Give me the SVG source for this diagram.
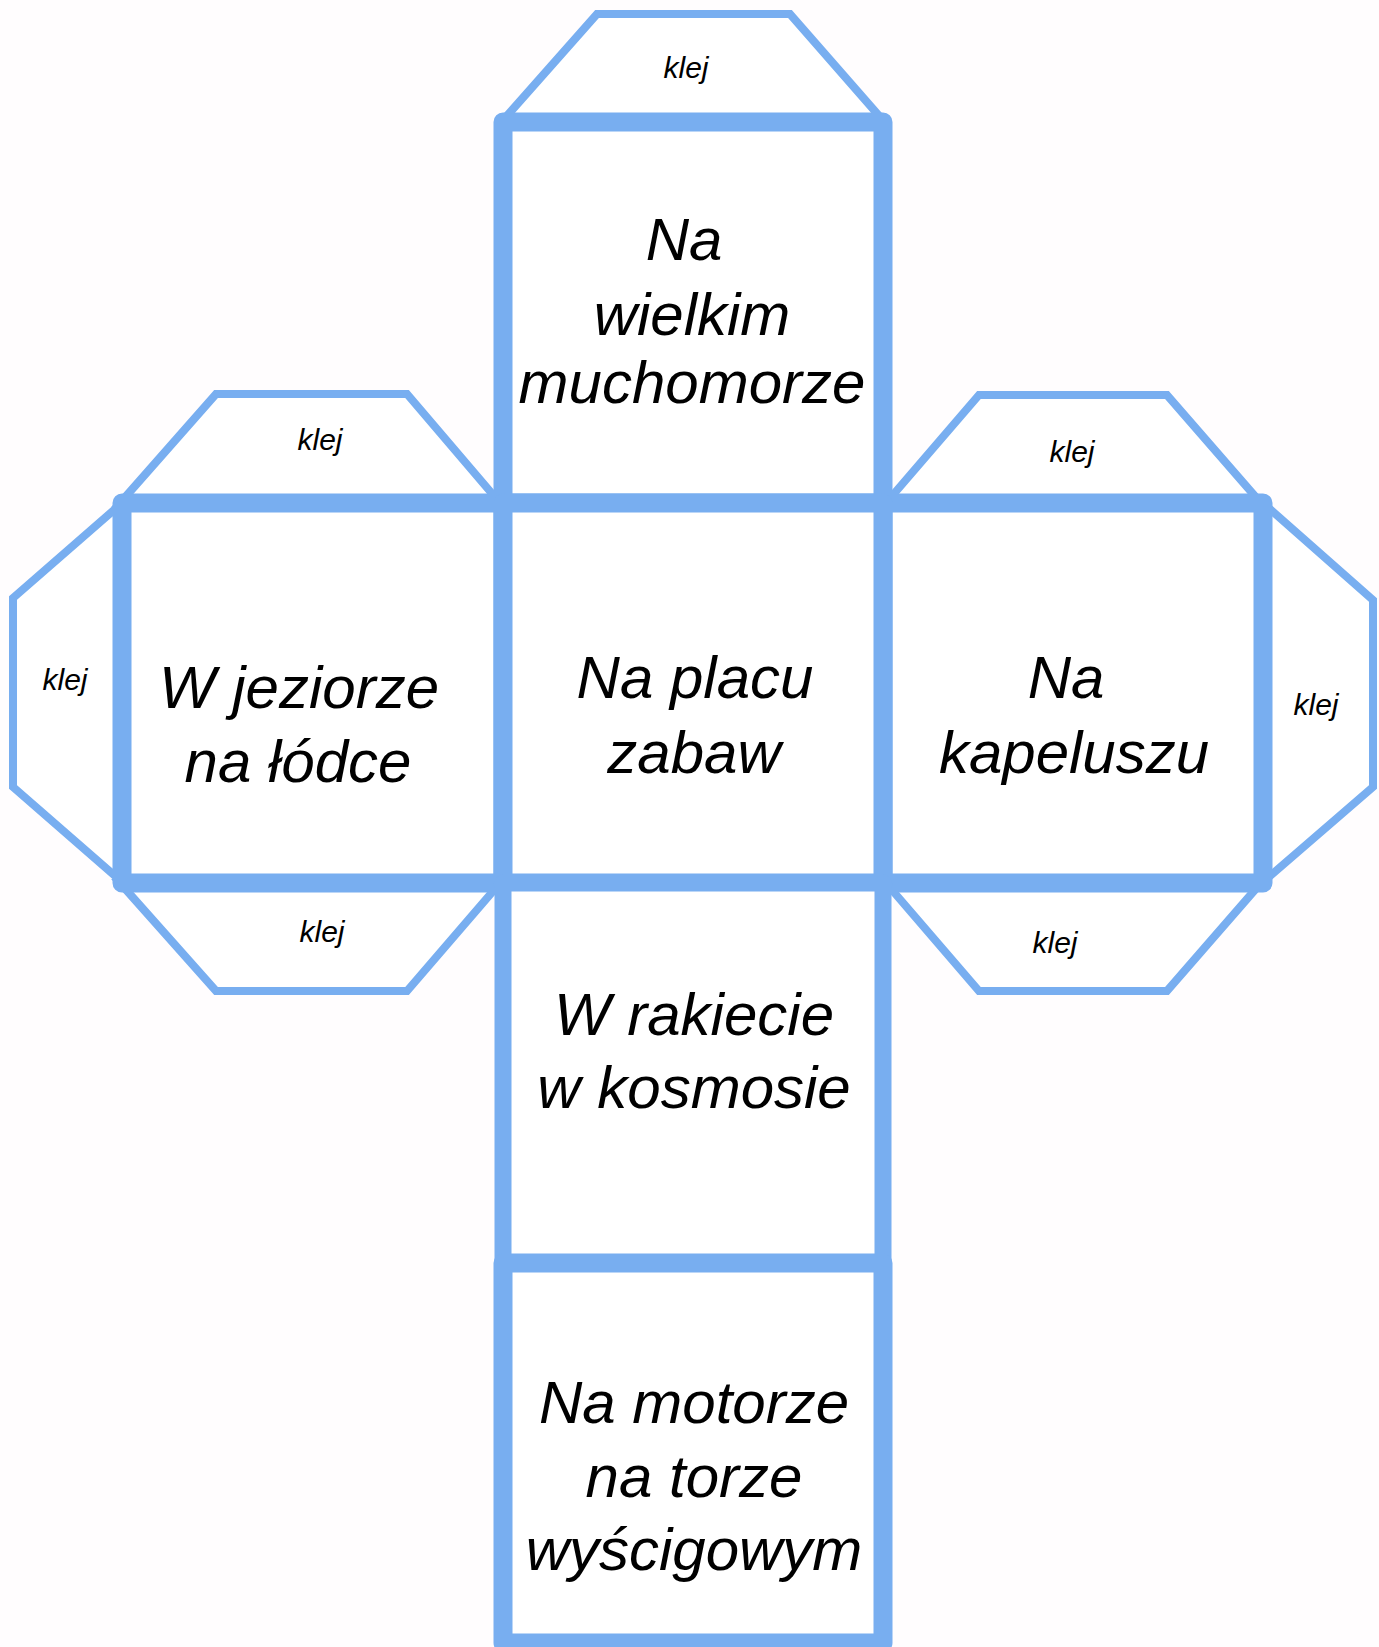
<svg xmlns="http://www.w3.org/2000/svg" width="1379" height="1647" viewBox="0 0 1379 1647">
<style>
.tab{fill:#ffffff;stroke:#78aef0;stroke-width:8;stroke-linejoin:miter}
.face{fill:#ffffff;stroke:#78aef0;stroke-width:19;stroke-linejoin:round}
.big{font-family:"Liberation Sans",Arial,sans-serif;font-style:italic;font-size:60px;fill:#000;text-anchor:middle}
.small{font-family:"Liberation Sans",Arial,sans-serif;font-style:italic;font-size:30px;fill:#000;text-anchor:middle}
</style>
<rect width="1379" height="1647" fill="#fffdfe"/>
<g id="tabs">
<g id="tab-top"><polygon class="tab" points="505,118 597,14 790,14 881,118"/><text class="small" x="686" y="78">klej</text></g>
<g id="tab-left-top"><polygon class="tab" points="120,503 216,394 407,394 500,503"/><text class="small" x="320" y="450">klej</text></g>
<g id="tab-right-top"><polygon class="tab" points="886,503 979,395 1167,395 1261,503"/><text class="small" x="1072" y="462">klej</text></g>
<g id="tab-left-bottom"><polygon class="tab" points="120,883 216,991 407,991 500,883"/><text class="small" x="322" y="942">klej</text></g>
<g id="tab-right-bottom"><polygon class="tab" points="886,883 979,991 1167,991 1261,883"/><text class="small" x="1055" y="953">klej</text></g>
<g id="tab-left-side"><polygon class="tab" points="122,503 13,598 13,787 122,882"/><text class="small" x="65" y="690">klej</text></g>
<g id="tab-right-side"><polygon class="tab" points="1263,503 1373,600 1373,787 1263,882"/><text class="small" x="1316" y="715">klej</text></g>
</g>
<g id="connectors"></g>
<g id="face-top"><rect class="face" x="503" y="122" width="380" height="381"/>
<text class="big" x="684" y="260">Na</text><text class="big" x="692" y="335">wielkim</text><text class="big" x="692" y="403">muchomorze</text></g>
<g id="face-left"><rect class="face" x="122" y="503" width="381" height="380"/>
<text class="big" x="299" y="708">W jeziorze</text><text class="big" x="298" y="782">na łódce</text></g>
<g id="face-right"><rect class="face" x="883" y="503" width="380" height="380"/>
<text class="big" x="1066" y="698">Na</text><text class="big" x="1074" y="773">kapeluszu</text></g>
<g id="face-center"><rect class="face" x="503" y="503" width="380" height="380"/>
<text class="big" x="695" y="698">Na placu</text><text class="big" x="694" y="773">zabaw</text></g>
<g id="face-lower"><rect class="face" x="503" y="883" width="380" height="380" style="stroke-width:17"/>
<text class="big" x="694" y="1035">W rakiecie</text><text class="big" x="694" y="1108">w kosmosie</text></g>
<g id="face-bottom"><rect class="face" x="503" y="1263" width="380" height="380"/>
<text class="big" x="694" y="1423">Na motorze</text><text class="big" x="694" y="1497">na torze</text><text class="big" x="694" y="1570">wyścigowym</text></g>
</svg>
